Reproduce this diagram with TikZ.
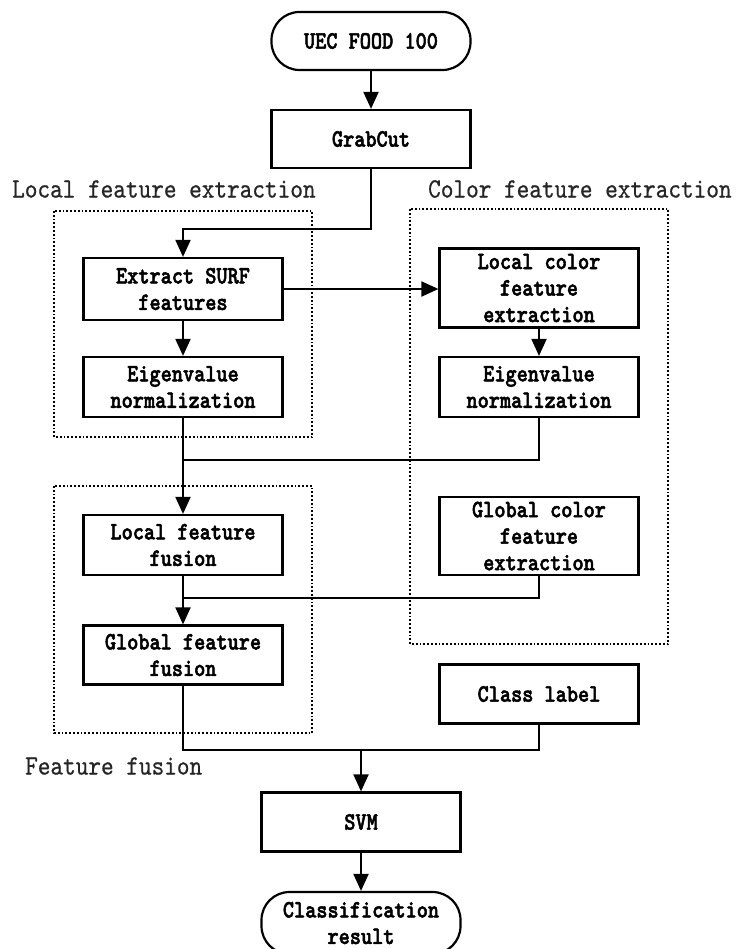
\documentclass[tikz,border=0pt]{standalone}
\usepackage{fontspec}
% condensed serif typewriter faces for box texts and group titles
\newfontfamily\boxfont[FakeStretch=0.85, FakeBold=2]{lmmonolt10-bold.otf}
\newfontfamily\titlefont[FakeStretch=0.86, FakeBold=0.6]{lmmono10-regular.otf}
\usetikzlibrary{arrows.meta}

\begin{document}
\begin{tikzpicture}[x=1pt,y=-1pt,
  box/.style={draw, line width=2.2pt, fill=white, minimum width=199pt,
    align=center, font=\boxfont\fontsize{25}{26.5}\selectfont, inner sep=2pt},
  term/.style={box, rounded corners=28pt},
  arr/.style={line width=2pt, -{Triangle[length=17pt,width=15pt]}},
  wire/.style={line width=2pt},
  group/.style={line width=2pt, dash pattern=on 1.8pt off 2pt},
  grouplabel/.style={font=\titlefont\fontsize{28}{30}\selectfont, text=black!85, inner sep=0pt}
]
\useasboundingbox (0,0) rectangle (737,949);

% group frames
\draw[group] (54,211) rectangle (312,437);
\draw[group] (410,209) rectangle (668,644);
\draw[group] (54,486) rectangle (312,733);

\node[grouplabel, anchor=west] (lfelab) at (12,189) {Local feature extraction};
\node[grouplabel, anchor=west] (cfelab) at (428,189) {Color feature extraction};
\node[grouplabel, anchor=west] (fflab) at (25,766) {Feature fusion};

% process steps
\node[term, minimum height=58pt] (uec) at (371,41) {UEC FOOD 100};
\node[box, minimum height=58pt] (grab) at (371,139) {GrabCut};
\node[box, minimum height=62pt] (surf) at (183,289) {Extract SURF\\features};
\node[box, minimum height=79pt] (lcol) at (539,288) {Local color\\feature\\extraction};
\node[box, minimum height=60pt] (leig) at (183,387) {Eigenvalue\\normalization};
\node[box, minimum height=60pt] (reig) at (539,387) {Eigenvalue\\normalization};
\node[box, minimum height=60pt] (lfus) at (183,545) {Local feature\\fusion};
\node[box, minimum height=78pt] (gcol) at (539,536) {Global color\\feature\\extraction};
\node[box, minimum height=59pt] (gfus) at (183,655) {Global feature\\fusion};
\node[box, minimum height=59pt] (cls) at (539,694) {Class label};
\node[box, minimum height=59pt] (svm) at (361,822) {SVM};
\node[term, minimum height=62pt] (res) at (361,923) {Classification\\result};

% junction points
\coordinate (j1) at (371,229);
\coordinate (j2) at (183,460);
\coordinate (j3) at (183,598);
\coordinate (j4) at (183,750);
\coordinate (j5) at (539,750);
\coordinate (j6) at (361,750);

% connectors
\draw[arr] (uec) -- (grab);
\draw[arr] (grab) -- (j1) -| (surf);
\draw[arr] (surf) -- (lcol.west |- surf);
\draw[arr] (surf) -- (leig);
\draw[arr] (lcol) -- (reig);
\draw[wire] (reig) |- (j2);
\draw[arr] (leig) -- (lfus);
\draw[wire] (gcol) |- (j3);
\draw[arr] (lfus) -- (gfus);
\draw[wire] (gfus) -- (j4) -- (j5) -- (cls);
\draw[arr] (j6) -- (svm);
\draw[arr] (svm) -- (res);
\end{tikzpicture}
\end{document}
